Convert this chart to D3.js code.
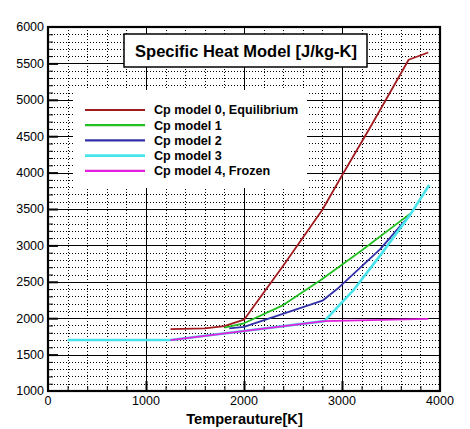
<!DOCTYPE html>
<html><head><meta charset="utf-8">
<script src="https://cdn.jsdelivr.net/npm/d3@7"></script>
<style>body{margin:0;background:#fff}svg{display:block}text{font-family:"Liberation Sans",Arial,sans-serif}</style>
</head><body>
<script>
const title = "Specific Heat Model [J/kg-K]";
const xTitle = "Temperauture[K]";
const xTicks = [0, 1000, 2000, 3000, 4000];
const yTicks = [1000, 1500, 2000, 2500, 3000, 3500, 4000, 4500, 5000, 5500, 6000];
const seriesNames = ["Cp model 0, Equilibrium", "Cp model 1", "Cp model 2", "Cp model 3", "Cp model 4, Frozen"];
const seriesColors = ["#a01a1e", "#22c022", "#3030a8", "#48e4ec", "#e020dc"];
const model0 = [[1250,1850],[1600,1860],[1800,1890],[2000,1980],[2400,2720],[2800,3490],[3000,3960],[3300,4650],[3680,5550],[3880,5650]];
const model1 = [[1800,1870],[2000,1930],[2400,2180],[2780,2520],[3200,2930],[3700,3440]];
const model2 = [[1850,1860],[2000,1880],[2800,2240],[2950,2400],[3390,2950],[3700,3430]];
const model3 = [[200,1700],[1250,1700],[2820,1960],[3120,2390],[3400,2880],[3700,3430],[3890,3830]];
const model4 = [[1250,1700],[2820,1960],[3880,1990]];
const seriesData = [model0, model1, model2, model3, model4];

const W = 470, H = 429;
const svg = d3.select("body").append("svg").attr("width", W).attr("height", H);
svg.append("rect").attr("width", W).attr("height", H).attr("fill", "#fff");

const x = d3.scaleLinear().domain([0, 4000]).range([48, 440]);
const y = d3.scaleLinear().domain([1000, 6000]).range([391, 27]);
const px = v => Math.round(x(v)) + 0.5;
const py = v => Math.round(y(v)) + 0.5;

// grid
const g = svg.append("g");
const xMinor = d3.range(200, 4000, 200).filter(v => v % 1000 !== 0);
const yMinor = d3.range(1100, 6000, 100).filter(v => v % 500 !== 0);
g.selectAll(".xm").data(xMinor).join("line")
  .attr("x1", d => px(d)).attr("x2", d => px(d)).attr("y1", y(1000)).attr("y2", y(6000))
  .attr("stroke", "#000").attr("stroke-width", 1).attr("stroke-dasharray", "1,2");
g.selectAll(".ym").data(yMinor).join("line")
  .attr("x1", x(0)).attr("x2", x(4000)).attr("y1", d => py(d)).attr("y2", d => py(d))
  .attr("stroke", "#000").attr("stroke-width", 1).attr("stroke-dasharray", "1,2");
g.selectAll(".xM").data(xTicks.slice(1, -1)).join("line")
  .attr("x1", d => px(d)).attr("x2", d => px(d)).attr("y1", y(1000)).attr("y2", y(6000))
  .attr("stroke", "#000").attr("stroke-width", 1);
g.selectAll(".yM").data(yTicks.slice(1, -1)).join("line")
  .attr("x1", x(0)).attr("x2", x(4000)).attr("y1", d => py(d)).attr("y2", d => py(d))
  .attr("stroke", "#000").attr("stroke-width", 1);

// legend background
svg.append("rect").attr("x", 73).attr("y", 90).attr("width", 234).attr("height", 98).attr("fill", "#fff");

// inward ticks
const yAxis = d3.axisRight(y).tickValues(yTicks.slice(1, -1)).tickSize(10).tickFormat("");
const ya = svg.append("g").attr("transform", `translate(${x(0)},0)`).call(yAxis);
ya.select(".domain").remove();
ya.selectAll("line").attr("stroke-width", 2);
const yAxisMinor = d3.axisRight(y).tickValues(yMinor).tickSize(5).tickFormat("");
const yam = svg.append("g").attr("transform", `translate(${x(0)},0)`).call(yAxisMinor);
yam.select(".domain").remove();
const xAxis = d3.axisTop(x).tickValues(xTicks.slice(1, -1)).tickSize(10).tickFormat("");
const xa = svg.append("g").attr("transform", `translate(0,${y(1000)})`).call(xAxis);
xa.select(".domain").remove();
xa.selectAll("line").attr("stroke-width", 2);
const xAxisMinor = d3.axisTop(x).tickValues(xMinor).tickSize(5).tickFormat("");
const xam = svg.append("g").attr("transform", `translate(0,${y(1000)})`).call(xAxisMinor);
xam.select(".domain").remove();

// tick labels
svg.selectAll(".yl").data(yTicks).join("text")
  .attr("x", 44).attr("y", d => y(d)).attr("dy", "0.35em").attr("text-anchor", "end")
  .attr("font-size", 12.5).attr("fill", "#000").text(d => d);
svg.selectAll(".xl").data(xTicks).join("text")
  .attr("x", d => x(d)).attr("y", 401).attr("dy", "0.35em").attr("text-anchor", "middle")
  .attr("font-size", 12.5).attr("fill", "#000").text(d => d);
svg.append("text").attr("x", 244.5).attr("y", 423.5).attr("text-anchor", "middle")
  .attr("font-size", 14.6).attr("font-weight", "bold").attr("fill", "#000").text(xTitle);

// lines
const line = d3.line().x(d => x(d[0])).y(d => y(d[1]));
[0, 1, 2, 3, 4].forEach(i => {
  svg.append("path").attr("d", line(seriesData[i])).attr("fill", "none")
    .attr("stroke", seriesColors[i]).attr("stroke-width", i === 3 ? 2.6 : 1.8)
    .attr("stroke-linejoin", "round");
});

// frame
svg.append("rect").attr("x", x(0)).attr("y", y(6000)).attr("width", x(4000) - x(0)).attr("height", y(1000) - y(6000))
  .attr("fill", "none").attr("stroke", "#000").attr("stroke-width", 2.2);

// title box
svg.append("rect").attr("x", 124).attr("y", 34).attr("width", 243).attr("height", 33)
  .attr("fill", "#fff").attr("stroke", "#000").attr("stroke-width", 1.5);
svg.append("text").attr("x", 246).attr("y", 56.5).attr("text-anchor", "middle")
  .attr("font-size", 16.5).attr("font-weight", "bold").attr("fill", "#000").text(title);

// legend
const lg = svg.append("g");
seriesNames.forEach((n, i) => {
  const yy = 110 + i * 15.2;
  lg.append("line").attr("x1", 85).attr("x2", 145).attr("y1", yy).attr("y2", yy)
    .attr("stroke", seriesColors[i]).attr("stroke-width", i === 3 ? 2.8 : 2.2);
  lg.append("text").attr("x", 154).attr("y", yy).attr("dy", "0.35em")
    .attr("font-size", 12.6).attr("font-weight", "bold").attr("fill", "#000").text(n);
});
</script>
</body></html>
